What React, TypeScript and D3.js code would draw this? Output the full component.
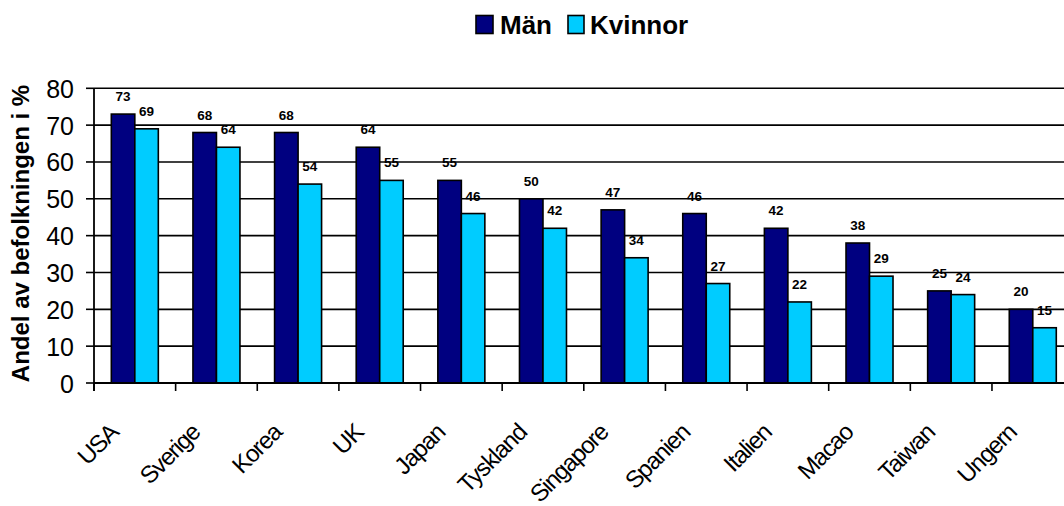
import React from "react";
import * as d3 from "d3";

const categories = ["USA", "Sverige", "Korea", "UK", "Japan", "Tyskland", "Singapore", "Spanien", "Italien", "Macao", "Taiwan", "Ungern"];
const manValues = [73, 68, 68, 64, 55, 50, 47, 46, 42, 38, 25, 20];
const kvinnorValues = [69, 64, 54, 55, 46, 42, 34, 27, 22, 29, 24, 15];
const seriesNames = ["Män", "Kvinnor"];
const seriesColors = ["#000080", "#00CCFF"];
const yTicks = [0, 10, 20, 30, 40, 50, 60, 70, 80];
const yTitle = "Andel av befolkningen i %";

const W = 1064;
const H = 506;
const left = 94;
const right = 1073.6;
const y0 = 383;
const yTop = 88.3;

export default function App() {
  const x0 = d3.scaleBand<string>().domain(categories).range([left, right]).padding(0);
  const bw = x0.bandwidth();
  const gap = (bw - 47) / 2;
  const x1 = d3.scaleBand<string>().domain(seriesNames).range([gap, bw - gap]).padding(0);
  const y = d3.scaleLinear().domain([0, 80]).range([y0, yTop]);
  const series = [manValues, kvinnorValues];
  const font = "Arial, 'Liberation Sans', sans-serif";

  return (
    <div style={{ position: "absolute", left: 0, top: 0 }}>
      <svg width={W} height={H} style={{ display: "block", background: "#fff" }} fontFamily={font}>
        {yTicks.filter((t) => t > 0).map((t) => (
          <line key={"g" + t} x1={left} x2={W} y1={y(t)} y2={y(t)} stroke="#000" strokeWidth={1.6} />
        ))}
        {yTicks.map((t) => (
          <g key={"t" + t}>
            <line x1={left - 8} x2={left} y1={y(t)} y2={y(t)} stroke="#000" strokeWidth={1.6} />
            <text x={74} y={y(t) + 9.5} fontSize={25} textAnchor="end" fill="#000">{t}</text>
          </g>
        ))}
        {categories.map((c, i) => (
          <g key={c} transform={`translate(${x0(c)},0)`}>
            {series.map((vals, s) => {
              const bx = x1(seriesNames[s])!;
              const v = vals[i];
              return (
                <g key={s}>
                  <rect x={bx} y={y(v)} width={x1.bandwidth()} height={y0 - y(v)} fill={seriesColors[s]} stroke="#000" strokeWidth={1.6} />
                  <text x={bx + x1.bandwidth() / 2} y={y(v) - 13} fontSize={13.5} fontWeight="bold" textAnchor="middle" fill="#000">{v}</text>
                </g>
              );
            })}
          </g>
        ))}
        <line x1={left} x2={left} y1={yTop} y2={y0 + 8} stroke="#000" strokeWidth={1.8} />
        <line x1={left} x2={W} y1={y0} y2={y0} stroke="#000" strokeWidth={2} />
        {categories.map((c) => (
          <line key={"xt" + c} x1={x0(c)!} x2={x0(c)!} y1={y0} y2={y0 + 8} stroke="#000" strokeWidth={1.6} />
        ))}
        {categories.map((c) => (
          <text key={"xl" + c} transform={`translate(${x0(c)! + bw / 2 - 15},434) rotate(-45)`} fontSize={24} letterSpacing={-1.2} textAnchor="end" fill="#000">{c}</text>
        ))}
        <text transform={`translate(28.5,233.5) rotate(-90)`} fontSize={24} fontWeight="bold" textAnchor="middle" fill="#000">{yTitle}</text>
        <rect x={476} y={15.5} width={17} height={18} fill={seriesColors[0]} stroke="#000" strokeWidth={1.6} />
        <text x={500} y={33.5} fontSize={26} fontWeight="bold" fill="#000">{seriesNames[0]}</text>
        <rect x={568} y={15.5} width={16} height={18} fill={seriesColors[1]} stroke="#000" strokeWidth={1.6} />
        <text x={590} y={33.5} fontSize={26} fontWeight="bold" fill="#000">{seriesNames[1]}</text>
      </svg>
    </div>
  );
}
